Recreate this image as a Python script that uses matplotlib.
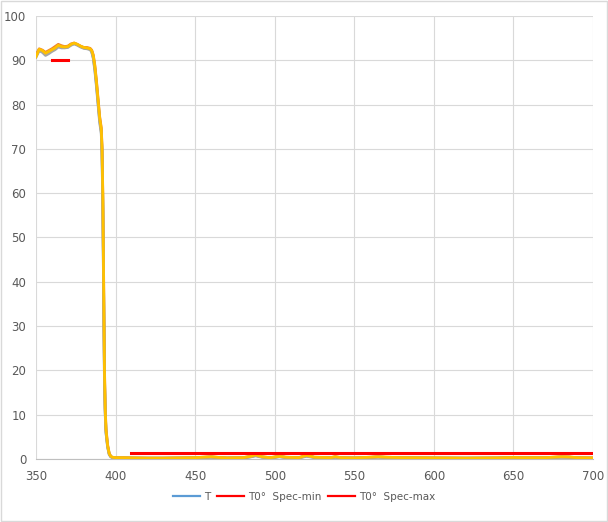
import matplotlib
matplotlib.use("Agg")
import matplotlib.pyplot as plt
from matplotlib.patches import Rectangle

# wavelength (nm) sample points
wl = [350, 352, 354, 356, 358, 360, 362, 364, 366, 368, 370, 372, 374, 376, 378,
      380, 382, 384, 385, 386, 387, 388, 389, 390, 391, 391.5, 392, 392.5, 393,
      393.5, 394, 395, 396, 397, 398, 400, 405, 410, 420, 430, 440, 450, 455, 460,
      465, 470, 480, 485, 488, 492, 497, 503, 507, 515, 520, 525, 535, 538, 542,
      550, 560, 565, 570, 580, 600, 620, 640, 650, 655, 670, 680, 685, 690, 700]

# transmittance curves (%)
t_blue = [91.0, 92.3, 92.0, 91.4, 91.8, 92.3, 92.7, 93.2, 93.0, 92.9, 93.0, 93.5, 93.8, 93.5, 93.1,
          92.8, 92.7, 92.5, 92.0, 90.6, 88.0, 84.5, 80.5, 76.5, 74.0, 69.0, 57.0, 38.0, 19.0,
          10.5, 6.0, 2.8, 1.1, 0.5, 0.35, 0.25, 0.25, 0.2, 0.2, 0.2, 0.2, 0.25, 0.35, 0.45,
          0.3, 0.2, 0.25, 0.5, 0.8, 0.45, 0.25, 0.55, 0.35, 0.25, 0.7, 0.35, 0.25, 0.45, 0.25,
          0.2, 0.35, 0.45, 0.35, 0.25, 0.2, 0.2, 0.2, 0.3, 0.25, 0.25, 0.45, 0.4, 0.25, 0.2]
t_orange = [91.2, 92.6, 92.3, 91.8, 92.2, 92.6, 93.1, 93.6, 93.3, 93.1, 93.2, 93.7, 93.9, 93.6, 93.2,
            92.9, 92.9, 92.7, 92.3, 91.2, 88.8, 85.3, 81.3, 77.3, 74.8, 70.5, 59.5, 41.0, 21.0,
            11.5, 6.8, 3.2, 1.3, 0.6, 0.4, 0.3, 0.3, 0.25, 0.2, 0.2, 0.25, 0.3, 0.4, 0.5,
            0.35, 0.25, 0.3, 0.6, 0.9, 0.5, 0.3, 0.6, 0.4, 0.3, 0.8, 0.4, 0.3, 0.5, 0.3,
            0.25, 0.4, 0.5, 0.4, 0.3, 0.25, 0.2, 0.25, 0.35, 0.3, 0.3, 0.5, 0.45, 0.3, 0.25]
t_gray = [90.7, 92.2, 91.8, 91.1, 91.5, 92.0, 92.4, 93.0, 92.8, 92.8, 92.9, 93.4, 93.7, 93.4, 93.0,
          92.7, 92.6, 92.4, 91.9, 90.4, 87.6, 84.0, 80.0, 76.0, 73.5, 68.5, 56.0, 37.0, 18.0,
          10.0, 5.8, 2.7, 1.0, 0.5, 0.3, 0.25, 0.2, 0.2, 0.15, 0.15, 0.2, 0.25, 0.3, 0.4,
          0.3, 0.2, 0.25, 0.5, 0.7, 0.4, 0.25, 0.5, 0.35, 0.25, 0.6, 0.35, 0.25, 0.4, 0.25,
          0.2, 0.35, 0.45, 0.35, 0.25, 0.2, 0.15, 0.2, 0.3, 0.25, 0.25, 0.4, 0.4, 0.25, 0.2]
t_yellow = [90.8, 92.5, 92.2, 91.6, 92.0, 92.4, 92.8, 93.4, 93.1, 93.0, 93.1, 93.6, 93.9, 93.6, 93.2,
            92.9, 92.8, 92.6, 92.2, 91.0, 88.5, 85.0, 81.0, 77.0, 74.5, 70.0, 59.0, 40.0, 20.0,
            11.0, 6.5, 3.0, 1.2, 0.6, 0.4, 0.3, 0.3, 0.25, 0.2, 0.2, 0.25, 0.3, 0.4, 0.5,
            0.35, 0.25, 0.3, 0.6, 0.9, 0.5, 0.3, 0.6, 0.4, 0.3, 0.8, 0.4, 0.3, 0.5, 0.3,
            0.25, 0.4, 0.5, 0.4, 0.3, 0.25, 0.2, 0.25, 0.35, 0.3, 0.3, 0.5, 0.45, 0.3, 0.25]

# spec lines
spec_min_x = [360, 370]
spec_min_y = [90, 90]
spec_max_x = [410, 700]
spec_max_y = [1.3, 1.3]

fig = plt.figure(figsize=(6.08, 5.22), dpi=100)
ax = fig.add_axes([36 / 608, 1 - 459 / 522, (593 - 36) / 608, (459 - 16) / 522])

ax.plot(wl, t_blue, color="#5B9BD5", lw=2.0, label="T", zorder=3)
ax.plot(wl, t_orange, color="#ED7D31", lw=2.0, zorder=3)
ax.plot(wl, t_gray, color="#A5A5A5", lw=2.0, zorder=3)
ax.plot(wl, t_yellow, color="#FFC000", lw=2.0, zorder=3)
ax.plot(spec_min_x, spec_min_y, color="#FF0000", lw=2.2, label="T0°  Spec-min", zorder=4)
ax.plot(spec_max_x, spec_max_y, color="#FF0000", lw=2.2, label="T0°  Spec-max", zorder=4)

ax.set_xlim(350, 700)
ax.set_ylim(0, 100)
ax.set_xticks(range(350, 701, 50))
ax.set_yticks(range(0, 101, 10))
ax.grid(True, color="#D9D9D9", lw=0.8)
ax.set_axisbelow(True)
for s in ["top", "right", "left"]:
    ax.spines[s].set_visible(False)
ax.spines["bottom"].set_color("#BFBFBF")
ax.tick_params(length=0, labelsize=8.5, colors="#595959")
ax.tick_params(axis="x", pad=8)
ax.tick_params(axis="y", pad=7)

leg = fig.legend(loc="center", bbox_to_anchor=(0.5, 1 - 497 / 522), ncol=3, frameon=False,
                 fontsize=7.5, handlelength=2.6, handletextpad=0.4, columnspacing=0.6)
for t in leg.get_texts():
    t.set_color("#595959")
for h in leg.get_lines():
    h.set_linewidth(1.6)

fig.patches.append(Rectangle((0.001, 0.001), 0.997, 0.997, transform=fig.transFigure,
                             fill=False, edgecolor="#D9D9D9", lw=1))

fig.savefig("out.png", dpi=100)
